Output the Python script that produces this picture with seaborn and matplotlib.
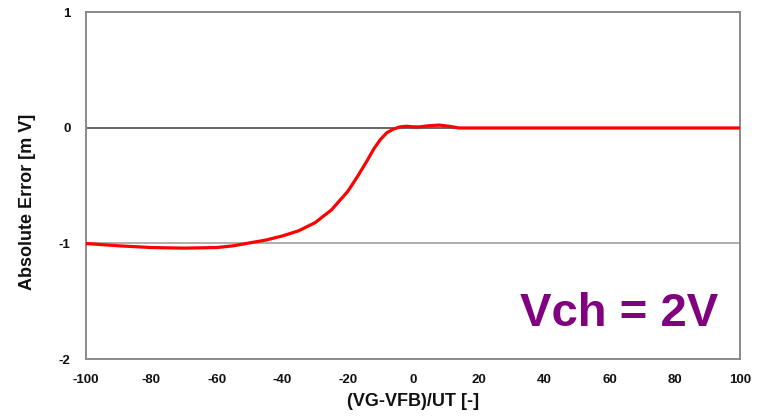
import numpy as np
import pandas as pd
import matplotlib
matplotlib.use("Agg")
import matplotlib.pyplot as plt
from matplotlib.ticker import MultipleLocator
import seaborn as sns

# Normalised gate voltage (VG-VFB)/UT and absolute error in mV
x_norm = [-100, -90, -80, -70, -60, -55, -50, -45, -40, -35, -30, -25, -20,
          -17, -14, -12, -10, -8, -6, -4, -2, 0, 2, 5, 8, 11, 14, 20,
          30, 40, 50, 60, 70, 80, 90, 100]
abs_err = [-1.00, -1.02, -1.035, -1.04, -1.035, -1.02, -0.995, -0.97, -0.935,
           -0.89, -0.82, -0.71, -0.55, -0.42, -0.28, -0.18, -0.10, -0.04,
           -0.01, 0.01, 0.015, 0.01, 0.01, 0.02, 0.025, 0.015, 0.0, 0.0,
           0.0, 0.0, 0.0, 0.0, 0.0, 0.0, 0.0, 0.0]

x_ticks = [-100, -80, -60, -40, -20, 0, 20, 40, 60, 80, 100]
y_ticks = [-2, -1, 0, 1]
ref_levels = [0, -1]
annotation = "Vch = 2V"

sns.set_style("white")
plt.rcParams["font.family"] = ["Liberation Sans", "DejaVu Sans"]
plt.rcParams["text.color"] = "#111111"
plt.rcParams["axes.labelcolor"] = "#111111"
plt.rcParams["xtick.labelcolor"] = "#111111"
plt.rcParams["ytick.labelcolor"] = "#111111"

df = pd.DataFrame({"x": x_norm, "err": abs_err})

fig = plt.figure(figsize=(7.59, 4.16), dpi=100)
ax = fig.add_axes([0.1133, 0.137, 0.862, 0.833])

ax.axhline(ref_levels[0], color="#5a5a5a", lw=1.3, zorder=1)
ax.axhline(ref_levels[1], color="#a8a8a8", lw=1.3, zorder=1)

sns.lineplot(data=df, x="x", y="err", ax=ax, color="#ff0000", lw=2.3,
             zorder=3, sort=True)

ax.set_xlim(-100, 100)
ax.set_ylim(-2, 1)
ax.set_xticks(x_ticks)
ax.set_yticks(y_ticks)
ax.yaxis.set_minor_locator(MultipleLocator(0.2))
ax.set_xticklabels([str(t) for t in x_ticks])
ax.set_yticklabels([str(t) for t in y_ticks])

for s in ax.spines.values():
    s.set_color("#8a8a8a")
    s.set_linewidth(1.4)

ax.tick_params(axis="both", which="major", direction="in", length=3.5,
               width=1.2, color="#8a8a8a", labelsize=9.5, pad=11)
ax.tick_params(axis="y", which="minor", direction="in", length=3,
               width=1.0, color="#8a8a8a")
ax.tick_params(axis="x", which="minor", bottom=False)
for lbl in ax.get_xticklabels() + ax.get_yticklabels():
    lbl.set_fontweight("bold")

ax.set_xlabel("(VG-VFB)/UT [-]", fontsize=13, fontweight="bold", labelpad=5)
ax.set_ylabel("Absolute Error [m V]", fontsize=13, fontweight="bold")
ax.yaxis.set_label_coords(-0.076, 0.454)

ax.text(93.3, -1.61, annotation, color="#800080", fontsize=34,
        fontweight="bold", ha="right", va="center")

fig.savefig("out.png", dpi=100)
